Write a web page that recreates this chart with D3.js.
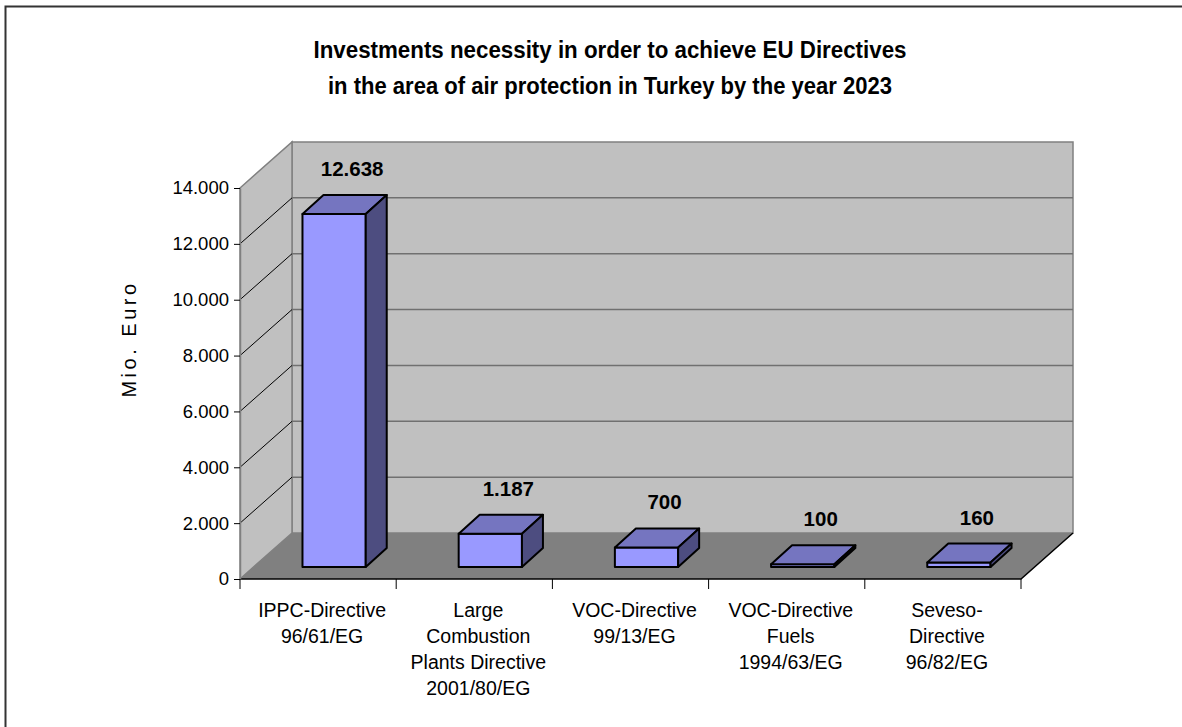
<!DOCTYPE html>
<html>
<head>
<meta charset="utf-8">
<script src="https://cdn.jsdelivr.net/npm/d3@7"></script>
<style>
    html, body { margin: 0; padding: 0; background: #fff; overflow: hidden; }
    svg { display: block; font-family: "Liberation Sans", Arial, sans-serif; }
</style>
</head>
<body>
<div id="chart"></div>
<script>
// === DATA ===
const categories = ['IPPC', 'LCP', 'VOC', 'VOC-Fuels', 'Seveso']
const categoryLabels = [
    ['IPPC-Directive', '96/61/EG'],
    ['Large', 'Combustion', 'Plants Directive', '2001/80/EG'],
    ['VOC-Directive', '99/13/EG'],
    ['VOC-Directive', 'Fuels', '1994/63/EG'],
    ['Seveso-', 'Directive', '96/82/EG']
]
const values = [12638, 1187, 700, 100, 160]
const yTicks = [0, 2000, 4000, 6000, 8000, 10000, 12000, 14000]
const titleLines = [
    'Investments necessity in order to achieve EU Directives',
    'in the area of air protection in Turkey by the year 2023'
]
const yTitle = 'Mio. Euro'

// === LAYOUT ===
const W = 1182, H = 727
const DX = 52, DY = -46          // wall depth
const BAR_DX = 21, BAR_DY = -19  // bar depth
const BAR_OFF_Y = -12            // bar front face sits a bit behind the front plane

const de = d3.formatLocale({ decimal: ',', thousands: '.', grouping: [3], currency: ['', ' €'] })
const fmt = de.format(',.0f')

const x = d3.scaleBand(categories, [240, 1021])
const y = d3.scaleLinear([0, 14000], [579, 188])

const svg = d3.select('#chart').append('svg')
    .attr('width', W)
    .attr('height', H)

// outer frame
svg.append('rect')
    .attr('x', 5.5).attr('y', 6.5)
    .attr('width', 1300).attr('height', 900)
    .attr('fill', '#fff')
    .attr('stroke', '#333').attr('stroke-width', 2)

// === TITLE ===
const titleWidths = [593, 564]
svg.append('g').selectAll('text')
    .data(titleLines)
    .join('text')
    .attr('x', 610)
    .attr('y', (d, i) => 58 + i * 36)
    .attr('text-anchor', 'middle')
    .attr('font-size', 23.5)
    .attr('font-weight', 'bold')
    .attr('fill', '#000')
    .attr('textLength', (d, i) => titleWidths[i])
    .attr('lengthAdjust', 'spacingAndGlyphs')
    .text(d => d)

// === WALLS ===
const x0 = x.range()[0], x1 = x.range()[1]
const yTop = y(14000), yBot = y(0)
const pt = (a, b) => `${a},${b}`

const walls = svg.append('g')

// back wall
walls.append('polygon')
    .attr('points', [pt(x0 + DX, yTop + DY), pt(x1 + DX, yTop + DY), pt(x1 + DX, yBot + DY), pt(x0 + DX, yBot + DY)].join(' '))
    .attr('fill', '#c0c0c0')
    .attr('stroke', '#808080').attr('stroke-width', 1.5)

// left wall
walls.append('polygon')
    .attr('points', [pt(x0, yTop), pt(x0 + DX, yTop + DY), pt(x0 + DX, yBot + DY), pt(x0, yBot)].join(' '))
    .attr('fill', '#c0c0c0')
    .attr('stroke', '#808080').attr('stroke-width', 1.5)

// floor
walls.append('polygon')
    .attr('points', [pt(x0, yBot), pt(x1, yBot), pt(x1 + DX, yBot + DY), pt(x0 + DX, yBot + DY)].join(' '))
    .attr('fill', '#808080')

// gridlines: slanted on left wall, horizontal on back wall
const grid = walls.append('g')
grid.selectAll('line.side')
    .data(yTicks.slice(1, -1))
    .join('line')
    .attr('class', 'side')
    .attr('x1', x0).attr('y1', d => y(d))
    .attr('x2', x0 + DX).attr('y2', d => y(d) + DY)
    .attr('stroke', '#000').attr('stroke-width', 1)
grid.selectAll('line.back')
    .data(yTicks.slice(1, -1))
    .join('line')
    .attr('class', 'back')
    .attr('x1', x0 + DX).attr('y1', d => y(d) + DY)
    .attr('x2', x1 + DX).attr('y2', d => y(d) + DY)
    .attr('stroke', '#707070').attr('stroke-width', 1.5)

// floor front and right edges
walls.append('path')
    .attr('d', `M${x0},${yBot}H${x1}L${x1 + DX},${yBot + DY}`)
    .attr('fill', 'none')
    .attr('stroke', '#000').attr('stroke-width', 1.5)

// === AXES ===
const yAxis = d3.axisLeft(y)
    .tickValues(yTicks)
    .tickFormat(fmt)
    .tickSize(6)
    .tickSizeOuter(0)
    .tickPadding(5)

const gy = svg.append('g')
    .attr('transform', `translate(${x0},0)`)
    .call(yAxis)
gy.select('.domain').attr('stroke', '#808080').attr('stroke-width', 1.5)
gy.selectAll('.tick line').attr('stroke', '#000')
gy.selectAll('.tick text')
    .attr('font-family', '"Liberation Sans", Arial, sans-serif')
    .attr('font-size', 18.5)
    .attr('fill', '#000')

// x ticks at category boundaries
const bounds = categories.map(c => x(c)).concat([x1])
svg.append('g').selectAll('line')
    .data(bounds)
    .join('line')
    .attr('x1', d => d).attr('x2', d => d)
    .attr('y1', yBot).attr('y2', yBot + 10)
    .attr('stroke', '#000').attr('stroke-width', 1)

// x labels
const xl = svg.append('g').selectAll('text')
    .data(categories)
    .join('text')
    .attr('text-anchor', 'middle')
    .attr('font-size', 19.5)
    .attr('fill', '#000')
xl.selectAll('tspan')
    .data((d, i) => categoryLabels[i].map(t => ({ t, c: d })))
    .join('tspan')
    .attr('x', d => x(d.c) + x.bandwidth() / 2 + 4)
    .attr('y', (d, i) => 617 + i * 26)
    .text(d => d.t)

// y title
svg.append('text')
    .attr('transform', 'translate(136,339) rotate(-90)')
    .attr('text-anchor', 'middle')
    .attr('font-size', 20)
    .attr('letter-spacing', 3.5)
    .attr('fill', '#000')
    .text(yTitle)

// === BARS ===
const bw = x.bandwidth()
const bars = svg.append('g').selectAll('g')
    .data(categories.map((c, i) => ({ c, v: values[i] })))
    .join('g')

const bx = d => x(d.c) + bw * 0.4
const bwid = bw * 0.405
const btop = d => y(d.v) + BAR_OFF_Y
const bbot = y(0) + BAR_OFF_Y

// front face
bars.append('polygon')
    .attr('points', d => [pt(bx(d), btop(d)), pt(bx(d) + bwid, btop(d)), pt(bx(d) + bwid, bbot), pt(bx(d), bbot)].join(' '))
    .attr('fill', '#9999ff')
    .attr('stroke', '#000').attr('stroke-width', 2).attr('stroke-linejoin', 'round')

// top face
bars.append('polygon')
    .attr('points', d => [pt(bx(d), btop(d)), pt(bx(d) + BAR_DX, btop(d) + BAR_DY), pt(bx(d) + bwid + BAR_DX, btop(d) + BAR_DY), pt(bx(d) + bwid, btop(d))].join(' '))
    .attr('fill', '#7575c0')
    .attr('stroke', '#000').attr('stroke-width', 2).attr('stroke-linejoin', 'round')

// side face
bars.append('polygon')
    .attr('points', d => [pt(bx(d) + bwid, btop(d)), pt(bx(d) + bwid + BAR_DX, btop(d) + BAR_DY), pt(bx(d) + bwid + BAR_DX, bbot + BAR_DY), pt(bx(d) + bwid, bbot)].join(' '))
    .attr('fill', '#4d4d80')
    .attr('stroke', '#000').attr('stroke-width', 2).attr('stroke-linejoin', 'round')

// value labels
bars.append('text')
    .attr('x', d => bx(d) + bwid / 2 + 18)
    .attr('y', d => y(d.v) - 50)
    .attr('text-anchor', 'middle')
    .attr('font-size', 20.5)
    .attr('font-weight', 'bold')
    .attr('fill', '#000')
    .text(d => fmt(d.v))
</script>
</body>
</html>
